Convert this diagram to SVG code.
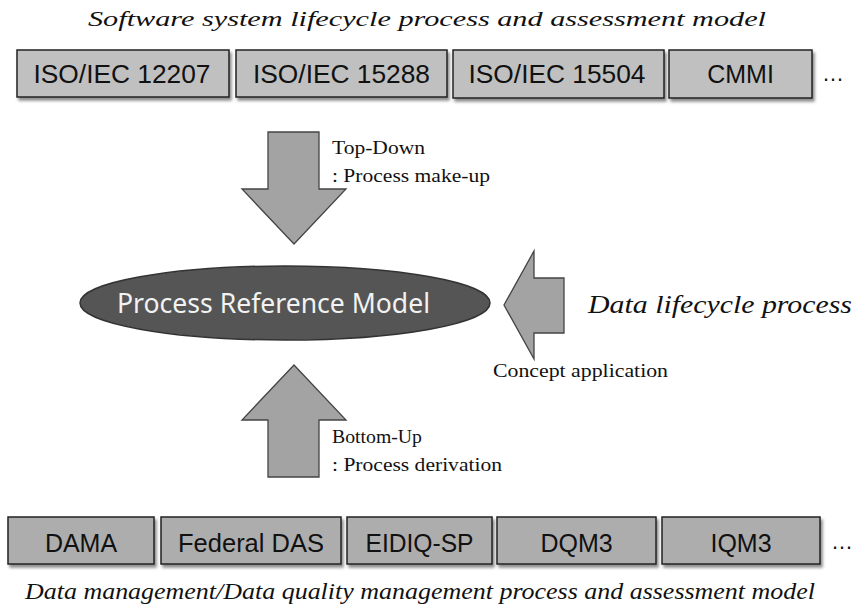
<svg xmlns="http://www.w3.org/2000/svg" width="853" height="613" viewBox="0 0 853 613">
<defs>
<filter id="sh" x="-10%" y="-20%" width="130%" height="160%">
<feDropShadow dx="2" dy="3" stdDeviation="1.8" flood-color="#000" flood-opacity="0.45"/>
</filter>
</defs>
<style>
.bt{fill:#c0c0c0;stroke:#222;stroke-width:1.5}
.bb{fill:#adadad;stroke:#222;stroke-width:1.5}
.bx{font-family:"Liberation Sans",Arial,sans-serif;font-size:25px;fill:#111;text-anchor:middle}
.cap{font-family:"Liberation Serif","Times New Roman",serif;font-style:italic;fill:#111}
.lbl{font-family:"Liberation Serif","Times New Roman",serif;font-size:19px;fill:#111}
.arr{fill:#a3a3a3;stroke:#444;stroke-width:1.3}
.dots{font-family:"Liberation Sans",Arial,sans-serif;font-size:22px;fill:#111}
</style>
<text class="cap" x="427" y="26" font-size="22" text-anchor="middle" textLength="678" lengthAdjust="spacingAndGlyphs">Software system lifecycle process and assessment model</text>
<g id="top-models">
<g id="iso12207"><rect class="bt" x="17" y="50" width="212" height="47" filter="url(#sh)"/><text class="bx" x="122" y="83" textLength="177" lengthAdjust="spacingAndGlyphs">ISO/IEC 12207</text></g>
<g id="iso15288"><rect class="bt" x="236" y="50" width="211" height="47" filter="url(#sh)"/><text class="bx" x="341.5" y="83" textLength="177" lengthAdjust="spacingAndGlyphs">ISO/IEC 15288</text></g>
<g id="iso15504"><rect class="bt" x="453" y="50" width="211" height="48" filter="url(#sh)"/><text class="bx" x="557" y="83" textLength="177" lengthAdjust="spacingAndGlyphs">ISO/IEC 15504</text></g>
<g id="cmmi"><rect class="bt" x="669" y="50" width="143" height="48" filter="url(#sh)"/><text class="bx" x="740.5" y="83">CMMI</text></g>
<text class="dots" x="822" y="81">…</text>
</g>
<g id="connectors">
<g id="top-down"><polygon class="arr" points="268,132 319,132 319,189 346,189 294,244 242,189 268,189"/>
<text class="lbl" x="332" y="154" textLength="93" lengthAdjust="spacingAndGlyphs">Top-Down</text><text class="lbl" x="332" y="182" textLength="158" lengthAdjust="spacingAndGlyphs">: Process make-up</text></g>
<g id="bottom-up"><polygon class="arr" points="268,477 319,477 319,420 346,420 294,365 242,420 268,420"/>
<text class="lbl" x="332" y="443" textLength="90" lengthAdjust="spacingAndGlyphs">Bottom-Up</text><text class="lbl" x="332" y="471" textLength="170" lengthAdjust="spacingAndGlyphs">: Process derivation</text></g>
<g id="concept"><polygon class="arr" points="564,278 564,333 534,333 534,359 504,305 534,251 534,278"/>
<text class="lbl" x="493" y="377" textLength="175" lengthAdjust="spacingAndGlyphs">Concept application</text></g>
</g>
<g id="prm"><ellipse cx="285" cy="303" rx="205" ry="37" fill="#555" stroke="#333" stroke-width="1.5"/>
<text x="273.5" y="313" font-family="'Noto Sans','Open Sans',sans-serif" font-size="27" fill="#f2f2f2" text-anchor="middle" textLength="313" lengthAdjust="spacingAndGlyphs">Process Reference Model</text></g>
<g id="dlp"><text class="cap" x="588" y="313" font-size="26" textLength="264" lengthAdjust="spacingAndGlyphs">Data lifecycle process</text></g>
<g id="bottom-models">
<g id="dama"><rect class="bb" x="8" y="517" width="146" height="47" filter="url(#sh)"/><text class="bx" x="81" y="552">DAMA</text></g>
<g id="fdas"><rect class="bb" x="161" y="517" width="180" height="47" filter="url(#sh)"/><text class="bx" x="251" y="552" textLength="146" lengthAdjust="spacingAndGlyphs">Federal DAS</text></g>
<g id="eidiq"><rect class="bb" x="347" y="517" width="145" height="47" filter="url(#sh)"/><text class="bx" x="419.5" y="552" textLength="108" lengthAdjust="spacingAndGlyphs">EIDIQ-SP</text></g>
<g id="dqm3"><rect class="bb" x="497" y="517" width="159" height="47" filter="url(#sh)"/><text class="bx" x="576.5" y="552">DQM3</text></g>
<g id="iqm3"><rect class="bb" x="662" y="517" width="158" height="47" filter="url(#sh)"/><text class="bx" x="741" y="552">IQM3</text></g>
<text class="dots" x="831" y="549">…</text>
</g>
<text class="cap" x="420" y="599" font-size="24" text-anchor="middle" textLength="790" lengthAdjust="spacingAndGlyphs">Data management/Data quality management process and assessment model</text>
</svg>
